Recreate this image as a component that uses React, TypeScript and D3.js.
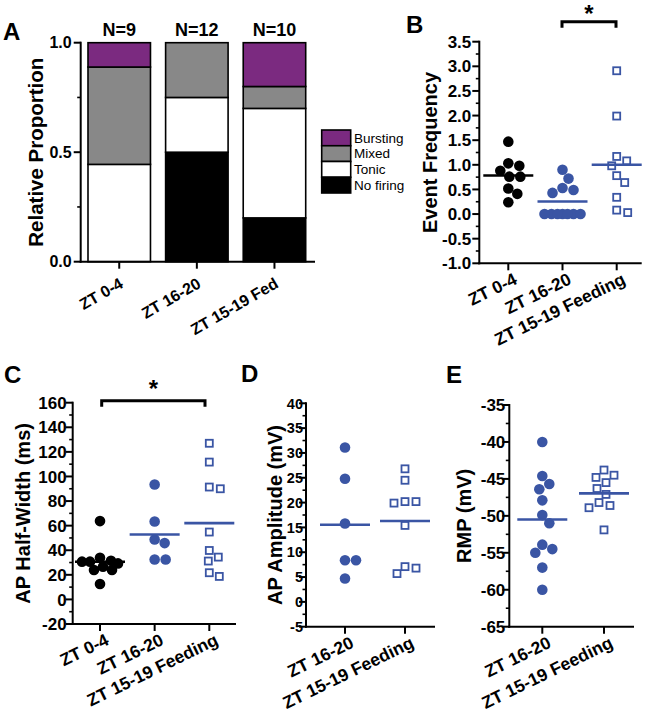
import React from 'react';
import * as d3 from 'd3';

// ---------------- data ----------------
const barCategories = ['ZT 0-4', 'ZT 16-20', 'ZT 15-19 Fed'];
const barNLabels = ['N=9', 'N=12', 'N=10'];
const firingKeys = ['No firing', 'Tonic', 'Mixed', 'Bursting']; // bottom -> top
const legendKeys = ['Bursting', 'Mixed', 'Tonic', 'No firing'];
const noFiring = [0, 6 / 12, 2 / 10];
const tonic = [4 / 9, 3 / 12, 5 / 10];
const mixed = [4 / 9, 3 / 12, 1 / 10];
const bursting = [1 / 9, 0, 2 / 10];
const proportionTicks = [0, 0.5, 1.0];
const proportionMinor = [0.25, 0.75];

const groupsThree = ['ZT 0-4', 'ZT 16-20', 'ZT 15-19 Feeding'];
const groupsTwo = ['ZT 16-20', 'ZT 15-19 Feeding'];

const freqZT0_4 = [1.47, 1.03, 0.98, 0.88, 0.76, 0.76, 0.52, 0.41, 0.24];
const freqZT16_20 = [0.9, 0.72, 0.53, 0.49, 0.43, 0, 0, 0, 0, 0, 0, 0];
const freqFed = [2.91, 1.99, 1.17, 1.08, 0.98, 0.78, 0.64, 0.34, 0.08, 0.03];

const halfWidthZT0_4 = [63.7, 33.9, 31.5, 30.7, 30.7, 29.3, 26.6, 23.9, 23.9, 12.5];
const halfWidthZT16_20 = [93.5, 63.4, 48.8, 45.8, 32.5, 32.5];
const halfWidthFed = [127, 111.7, 91.4, 90, 54.8, 39.8, 34.4, 31.2, 21.7, 18.7];

const ampZT16_20 = [31.1, 24.8, 15.8, 8.4, 8.4, 4.7];
const ampFed = [26.8, 24.5, 20.2, 20.2, 19.9, 15.4, 7.1, 6.8, 5.7];

const rmpZT16_20 = [-40, -44.6, -45.7, -46.4, -47.9, -49.9, -51.0, -53.9, -54.5, -55, -57, -60];
const rmpFed = [-43.8, -44.5, -44.8, -45.5, -46.3, -47.1, -48.2, -48.6, -48.9, -51.9];

// ---------------- styles ----------------
const FONT = 'Liberation Sans, Arial, Helvetica, sans-serif';
const BLUE = '#3a55a4';
const BLACK = '#000000';
const firingColors: Record<string, string> = {
  Bursting: '#7b2a80',
  Mixed: '#888888',
  Tonic: '#ffffff',
  'No firing': '#000000',
};

function swarm(values: number[], y: (v: number) => number, d: number, maxHalf: number): number[] {
  const idx = values.map((_, i) => i).sort((a, b) => values[b] - values[a]);
  const placed: { x: number; y: number }[] = [];
  const offsets = new Array(values.length).fill(0);
  const cands: number[] = [0];
  for (let k = 1; k <= maxHalf; k++) cands.push(k, -k);
  for (const i of idx) {
    const py = y(values[i]);
    let best = 0;
    let bestScore = -Infinity;
    for (const c of cands) {
      let minD = Infinity;
      for (const p of placed) {
        const dd = Math.hypot(p.x - c, p.y - py);
        if (dd < minD) minD = dd;
      }
      if (minD >= d) {
        best = c;
        break;
      }
      if (minD > bestScore + 1e-9) {
        bestScore = minD;
        best = c;
      }
    }
    offsets[i] = best;
    placed.push({ x: best, y: py });
  }
  return offsets;
}

type Series = { values: number[]; kind: 'dot' | 'square'; color: string };

type PanelProps = {
  letter: string;
  letterX: number;
  letterY: number;
  yLabel: string;
  yLabelX: number;
  groups: string[];
  series: Series[];
  yDomain: [number, number];
  yRange: [number, number];
  major: number;
  minor: number;
  fmt: (v: number) => string;
  axisX: number;
  xFirst: number;
  xLast: number;
  axisEnd: number;
  tickFont: number;
  tickGap: number;
};

function YAxis({ scale, x, majors, minors, fmt, fontSize, gap }: any) {
  const [y0, y1] = scale.range();
  return (
    <g>
      <line x1={x} x2={x} y1={y0 + 1} y2={y1 - 1} stroke="#000" strokeWidth={2} />
      {minors.map((v: number, i: number) => (
        <line key={'m' + i} x1={x - 3.5} x2={x} y1={scale(v)} y2={scale(v)} stroke="#000" strokeWidth={1.6} />
      ))}
      {majors.map((v: number, i: number) => (
        <g key={'M' + i}>
          <line x1={x - 7} x2={x} y1={scale(v)} y2={scale(v)} stroke="#000" strokeWidth={2} />
          <text
            x={x - gap}
            y={scale(v)}
            dy="0.36em"
            textAnchor="end"
            fontFamily={FONT}
            fontWeight="bold"
            fontSize={fontSize}
            fill="#000"
          >
            {fmt(v)}
          </text>
        </g>
      ))}
    </g>
  );
}

function ScatterPanel(p: PanelProps) {
  const y = d3.scaleLinear().domain(p.yDomain).range(p.yRange);
  const x = d3.scalePoint<string>().domain(p.groups).range([p.xFirst, p.xLast]);
  const majors = d3.range(p.yDomain[0], p.yDomain[1] + p.major / 2, p.major);
  const minors = d3.range(p.yDomain[0], p.yDomain[1] + p.minor / 2, p.minor).filter(
    (v) => !majors.some((m) => Math.abs(m - v) < 1e-9)
  );
  const yBottom = y(p.yDomain[0]);
  const midY = (p.yRange[0] + p.yRange[1]) / 2;
  return (
    <g>
      <text x={p.letterX} y={p.letterY} fontFamily={FONT} fontWeight="bold" fontSize={24} fill="#000">
        {p.letter}
      </text>
      <text
        transform={`translate(${p.yLabelX},${midY}) rotate(-90)`}
        dy="0.36em"
        textAnchor="middle"
        fontFamily={FONT}
        fontWeight="bold"
        fontSize={20}
        fill="#000"
      >
        {p.yLabel}
      </text>
      <YAxis scale={y} x={p.axisX} majors={majors} minors={minors} fmt={p.fmt} fontSize={p.tickFont} gap={p.tickGap} />
      <line x1={p.axisX - 1} x2={p.axisEnd} y1={yBottom} y2={yBottom} stroke="#000" strokeWidth={2} />
      {p.groups.map((g) => (
        <g key={g}>
          <line x1={x(g)} x2={x(g)} y1={yBottom} y2={yBottom + 7} stroke="#000" strokeWidth={2} />
          <text
            transform={`translate(${(x(g) as number) + 10},${yBottom + 20}) rotate(-26)`}
            textAnchor="end"
            fontFamily={FONT}
            fontWeight="bold"
            fontSize={17.5}
            fill="#000"
          >
            {g}
          </text>
        </g>
      ))}
      {p.series.map((s, si) => {
        const cx = x(p.groups[si]) as number;
        const offs = swarm(s.values, y, 10.5, 18);
        const mean = d3.mean(s.values) as number;
        return (
          <g key={si}>
            {s.values.map((v, i) =>
              s.kind === 'dot' ? (
                <circle key={i} cx={cx + offs[i]} cy={y(v)} r={5.3} fill={s.color} />
              ) : (
                <rect
                  key={i}
                  x={cx + offs[i] - 3.5}
                  y={y(v) - 3.5}
                  width={7}
                  height={7}
                  fill="#fff"
                  stroke={s.color}
                  strokeWidth={1.8}
                />
              )
            )}
            <line x1={cx - 25} x2={cx + 25} y1={y(mean)} y2={y(mean)} stroke={s.color} strokeWidth={2.6} />
          </g>
        );
      })}
    </g>
  );
}

function Bracket({ x1, x2, y, star }: { x1: number; x2: number; y: number; star: number }) {
  return (
    <g>
      <path d={`M${x1},${y + 6} L${x1},${y} L${x2},${y} L${x2},${y + 6}`} fill="none" stroke="#000" strokeWidth={3} />
      <text x={(x1 + x2) / 2} y={star} textAnchor="middle" fontFamily={FONT} fontWeight="bold" fontSize={24} fill="#000">
        *
      </text>
    </g>
  );
}

function PanelA() {
  const y = d3.scaleLinear().domain([0, 1]).range([261.7, 42.7]);
  const x = d3.scaleBand<string>().domain(barCategories).range([80.7, 313]).paddingInner(0.195).paddingOuter(0.094);
  const table = barCategories.map((c, i) => ({
    cat: c,
    'No firing': noFiring[i],
    Tonic: tonic[i],
    Mixed: mixed[i],
    Bursting: bursting[i],
  }));
  const stacked = d3.stack<any>().keys(firingKeys)(table);
  const legY = d3.scaleBand<string>().domain(legendKeys).range([130, 193]);
  return (
    <g>
      <text x={3} y={40} fontFamily={FONT} fontWeight="bold" fontSize={24} fill="#000">
        A
      </text>
      <text
        transform={`translate(36,${(42.7 + 261.7) / 2}) rotate(-90)`}
        dy="0.36em"
        textAnchor="middle"
        fontFamily={FONT}
        fontWeight="bold"
        fontSize={20.5}
        fill="#000"
      >
        Relative Proportion
      </text>
      {stacked.map((layer) => (
        <g key={layer.key}>
          {layer.map((d, i) =>
            d[1] - d[0] > 0 ? (
              <rect
                key={i}
                x={x(barCategories[i])}
                y={y(d[1])}
                width={x.bandwidth()}
                height={y(d[0]) - y(d[1])}
                fill={firingColors[layer.key]}
                stroke="#000"
                strokeWidth={1.6}
              />
            ) : null
          )}
        </g>
      ))}
      <YAxis scale={y} x={80.7} majors={proportionTicks} minors={proportionMinor} fmt={(v: number) => v.toFixed(1)} fontSize={16} gap={9} />
      <line x1={79.7} x2={315} y1={261.7} y2={261.7} stroke="#000" strokeWidth={2} />
      {barCategories.map((c, i) => {
        const cx = (x(c) as number) + x.bandwidth() / 2;
        return (
          <g key={c}>
            <line x1={cx} x2={cx} y1={261.7} y2={268.7} stroke="#000" strokeWidth={2} />
            <text
              transform={`translate(${cx + 5},${261.7 + 25}) rotate(-30)`}
              textAnchor="end"
              fontFamily={FONT}
              fontWeight="bold"
              fontSize={16}
              fill="#000"
            >
              {c}
            </text>
            <text x={cx} y={36} textAnchor="middle" fontFamily={FONT} fontWeight="bold" fontSize={18} fill="#000">
              {barNLabels[i]}
            </text>
          </g>
        );
      })}
      {legendKeys.map((k) => (
        <g key={k}>
          <rect
            x={321.7}
            y={legY(k)}
            width={29}
            height={legY.bandwidth()}
            fill={firingColors[k]}
            stroke="#000"
            strokeWidth={1.6}
          />
          <text
            x={354}
            y={(legY(k) as number) + legY.bandwidth() / 2}
            dy="0.36em"
            fontFamily={FONT}
            fontSize={13.5}
            fill="#000"
          >
            {k}
          </text>
        </g>
      ))}
    </g>
  );
}

export default function App() {
  return (
    <svg
      width={646}
      height={723}
      viewBox="0 0 646 723"
      style={{ position: 'absolute', left: 0, top: 0, background: '#fff' }}
    >
      <rect x={0} y={0} width={646} height={723} fill="#fff" />
      <PanelA />
      <ScatterPanel
        letter="B"
        letterX={406}
        letterY={33}
        yLabel="Event Frequency"
        yLabelX={430}
        groups={groupsThree}
        series={[
          { values: freqZT0_4, kind: 'dot', color: BLACK },
          { values: freqZT16_20, kind: 'dot', color: BLUE },
          { values: freqFed, kind: 'square', color: BLUE },
        ]}
        yDomain={[-1, 3.5]}
        yRange={[263.3, 41.7]}
        major={0.5}
        minor={0.25}
        fmt={(v) => v.toFixed(1)}
        axisX={479.3}
        xFirst={508.3}
        xLast={616.7}
        axisEnd={641.7}
        tickFont={17}
        tickGap={8}
      />
      <Bracket x1={562} x2={616} y={21.7} star={22} />
      <ScatterPanel
        letter="C"
        letterX={4}
        letterY={383}
        yLabel="AP Half-Width (ms)"
        yLabelX={22.5}
        groups={groupsThree}
        series={[
          { values: halfWidthZT0_4, kind: 'dot', color: BLACK },
          { values: halfWidthZT16_20, kind: 'dot', color: BLUE },
          { values: halfWidthFed, kind: 'square', color: BLUE },
        ]}
        yDomain={[-20, 160]}
        yRange={[624, 402.7]}
        major={20}
        minor={10}
        fmt={(v) => String(Math.round(v))}
        axisX={72.7}
        xFirst={100}
        xLast={209.3}
        axisEnd={236}
        tickFont={17}
        tickGap={6}
      />
      <Bracket x1={101.7} x2={205} y={400.7} star={397} />
      <ScatterPanel
        letter="D"
        letterX={241}
        letterY={382}
        yLabel="AP Amplitude (mV)"
        yLabelX={275}
        groups={groupsTwo}
        series={[
          { values: ampZT16_20, kind: 'dot', color: BLUE },
          { values: ampFed, kind: 'square', color: BLUE },
        ]}
        yDomain={[-5, 40]}
        yRange={[626.7, 403.3]}
        major={5}
        minor={2.5}
        fmt={(v) => String(Math.round(v))}
        axisX={306}
        xFirst={345}
        xLast={405}
        axisEnd={435}
        tickFont={14.5}
        tickGap={3}
      />
      <ScatterPanel
        letter="E"
        letterX={446}
        letterY={383}
        yLabel="RMP (mV)"
        yLabelX={464}
        groups={groupsTwo}
        series={[
          { values: rmpZT16_20, kind: 'dot', color: BLUE },
          { values: rmpFed, kind: 'square', color: BLUE },
        ]}
        yDomain={[-65, -35]}
        yRange={[626.7, 405]}
        major={5}
        minor={2.5}
        fmt={(v) => String(Math.round(v))}
        axisX={509.3}
        xFirst={542.3}
        xLast={604}
        axisEnd={634}
        tickFont={17}
        tickGap={4}
      />
    </svg>
  );
}
